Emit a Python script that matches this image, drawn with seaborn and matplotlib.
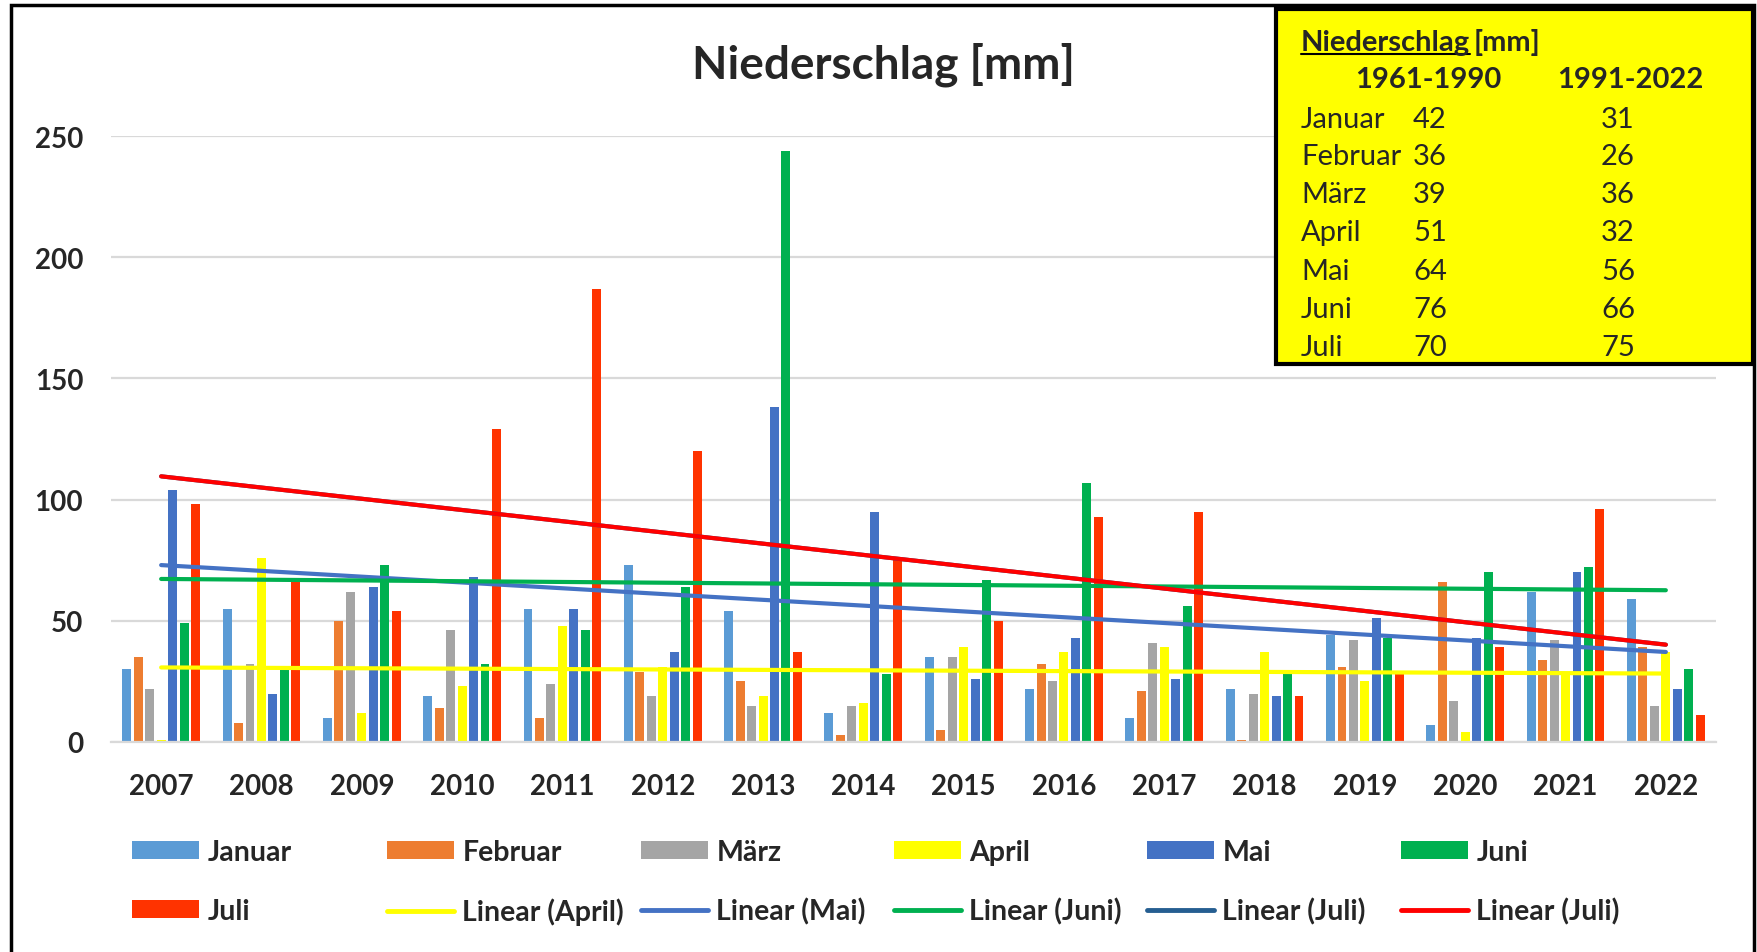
#!/usr/bin/env python3
"""Niederschlag 2007-2022, Monate Januar bis Juli, mit linearen Trends."""

import matplotlib.pyplot as plt
import numpy as np
import pandas as pd
import seaborn as sns
from matplotlib.lines import Line2D
from matplotlib.patches import Patch, Rectangle

JAHRE = [str(j) for j in range(2007, 2023)]
MONATE = ["Januar", "Februar", "März", "April", "Mai", "Juni", "Juli"]

JANUAR = [30, 55, 10, 19, 55, 73, 54, 12, 35, 22, 10, 22, 44, 7, 62, 59]
FEBRUAR = [35, 8, 50, 14, 10, 29, 25, 3, 5, 32, 21, 1, 31, 66, 34, 39]
MAERZ = [22, 32, 62, 46, 24, 19, 15, 15, 35, 25, 41, 20, 42, 17, 42, 15]
APRIL = [1, 76, 12, 23, 48, 31, 19, 16, 39, 37, 39, 37, 25, 4, 28, 37]
MAI = [104, 20, 64, 68, 55, 37, 138, 95, 26, 43, 26, 19, 51, 43, 70, 22]
JUNI = [49, 30, 73, 32, 46, 64, 244, 28, 67, 107, 56, 28, 43, 70, 72, 30]
JULI = [98, 66, 54, 129, 187, 120, 37, 76, 50, 93, 95, 19, 28, 39, 96, 11]

FARBEN = ["#5B9BD5", "#ED7D31", "#A5A5A5", "#FFFF00", "#4472C4", "#00B050", "#FF3300"]

# Trendlinien: (Legendentext, Farbe, Datenreihe)
TRENDS = [
    ("Linear (April)", "#FFFF00", APRIL),
    ("Linear (Mai)", "#4472C4", MAI),
    ("Linear (Juni)", "#00B050", JUNI),
    ("Linear (Juli)", "#255E91", JULI),
    ("Linear (Juli)", "#FF0000", JULI),
]

# Kasten mit den Klimanormalen
NORM_MONATE = ["Januar", "Februar", "März", "April", "Mai", "Juni", "Juli"]
NORM_1961_1990 = [42, 36, 39, 51, 64, 76, 70]
NORM_1991_2022 = [31, 26, 36, 32, 56, 66, 75]

W, H = 1757, 953


def fx(px):
    return px / W


def fy(py):
    return 1 - py / H


def main() -> None:
    sns.set_theme(style="white")
    plt.rcParams["font.family"] = ["Lato", "DejaVu Sans"]

    reihen = [JANUAR, FEBRUAR, MAERZ, APRIL, MAI, JUNI, JULI]
    df = pd.DataFrame(
        [
            {"Jahr": j, "Monat": m, "mm": werte[i]}
            for m, werte in zip(MONATE, reihen)
            for i, j in enumerate(JAHRE)
        ]
    )

    fig = plt.figure(figsize=(W / 100, H / 100), dpi=100)
    ax = fig.add_axes([fx(111), fy(743), fx(1716) - fx(111), fy(137) - fy(743)])

    sns.barplot(
        data=df, x="Jahr", y="mm", hue="Monat", order=JAHRE, hue_order=MONATE,
        palette=FARBEN, saturation=1, width=0.8, gap=0.22, linewidth=0,
        legend=False, ax=ax,
    )

    pos = np.arange(len(JAHRE))
    for _, farbe, werte in TRENDS:
        sns.regplot(
            x=pos, y=np.array(werte, dtype=float), scatter=False, ci=None,
            truncate=True, ax=ax, line_kws={"color": farbe, "linewidth": 3},
        )

    ax.set_xlim(-0.5, len(JAHRE) - 0.5)
    ax.set_ylim(0, 250)
    ax.set_yticks(range(0, 251, 50))
    ax.set_xlabel("")
    ax.set_ylabel("")
    ax.grid(axis="y", color="#D9D9D9", linewidth=1.6)
    ax.set_axisbelow(True)
    for s in ("top", "right", "left"):
        ax.spines[s].set_visible(False)
    ax.spines["bottom"].set_color("#D9D9D9")
    ax.spines["bottom"].set_linewidth(1.6)
    ax.tick_params(axis="y", length=0, pad=20, labelsize=20)
    ax.tick_params(axis="x", length=0, pad=22, labelsize=20)
    for t in ax.get_xticklabels() + ax.get_yticklabels():
        t.set_fontweight("bold")

    fig.text(fx(883), fy(65), "Niederschlag [mm]", ha="center", va="center",
             fontsize=33, fontweight="bold")

    # Legende: sechs Spalten, je zwei Zeilen
    handles = [Patch(facecolor=c, edgecolor="none") for c in FARBEN]
    labels = list(MONATE)
    for name, farbe, _ in TRENDS:
        handles.append(Line2D([], [], color=farbe, linewidth=3.5))
        labels.append(name)
    spalten_x = [132, 387, 641, 894, 1147, 1401]
    for k, x in enumerate(spalten_x):
        idx = [k, k + 6]
        fig.legend(
            [handles[i] for i in idx], [labels[i] for i in idx],
            loc="upper left", bbox_to_anchor=(fx(x), fy(840)),
            frameon=False, borderpad=0, borderaxespad=0,
            prop={"size": 20.5, "weight": "bold"},
            handlelength=2.35, handleheight=0.6, handletextpad=0.3,
            labelspacing=1.15,
        )

    # Aeusserer Rahmen
    fig.patches.append(Rectangle(
        (fx(11), -0.05), fx(1754) - fx(11), fy(6) + 0.05,
        transform=fig.transFigure, fill=False, edgecolor="black", linewidth=2.5,
    ))

    # Gelber Kasten mit Klimanormalen
    fig.patches.append(Rectangle(
        (fx(1276), fy(365)), fx(1753) - fx(1276), fy(10) - fy(365),
        transform=fig.transFigure, facecolor="#FFFF00", edgecolor="black",
        linewidth=3, zorder=5,
    ))
    gr = 21
    t1 = fig.text(fx(1301), fy(43), "Niederschlag", ha="left", va="center",
                  fontsize=gr, fontweight="bold", zorder=6)
    fig.canvas.draw()
    bb = t1.get_window_extent().transformed(fig.transFigure.inverted())
    fig.text(bb.x1 + fx(4), fy(43), "[mm]", ha="left", va="center",
             fontsize=gr, fontweight="bold", zorder=6)
    fig.add_artist(Line2D([bb.x0, bb.x1], [bb.y0 + 0.001, bb.y0 + 0.001],
                          transform=fig.transFigure, color="black",
                          linewidth=1.5, zorder=6))
    fig.text(fx(1428), fy(80), "1961-1990", ha="center", va="center",
             fontsize=gr, fontweight="bold", zorder=6)
    fig.text(fx(1630), fy(80), "1991-2022", ha="center", va="center",
             fontsize=gr, fontweight="bold", zorder=6)
    zeilen_y = [120, 157, 195, 233, 272, 310, 348]
    for y, m, a, b in zip(zeilen_y, NORM_MONATE, NORM_1961_1990, NORM_1991_2022):
        fig.text(fx(1301), fy(y), m, ha="left", va="center", fontsize=gr, zorder=6)
        fig.text(fx(1430), fy(y), str(a), ha="center", va="center", fontsize=gr, zorder=6)
        fig.text(fx(1618), fy(y), str(b), ha="center", va="center", fontsize=gr, zorder=6)

    fig.savefig("out.png", dpi=100)
    plt.close(fig)


if __name__ == "__main__":
    main()
